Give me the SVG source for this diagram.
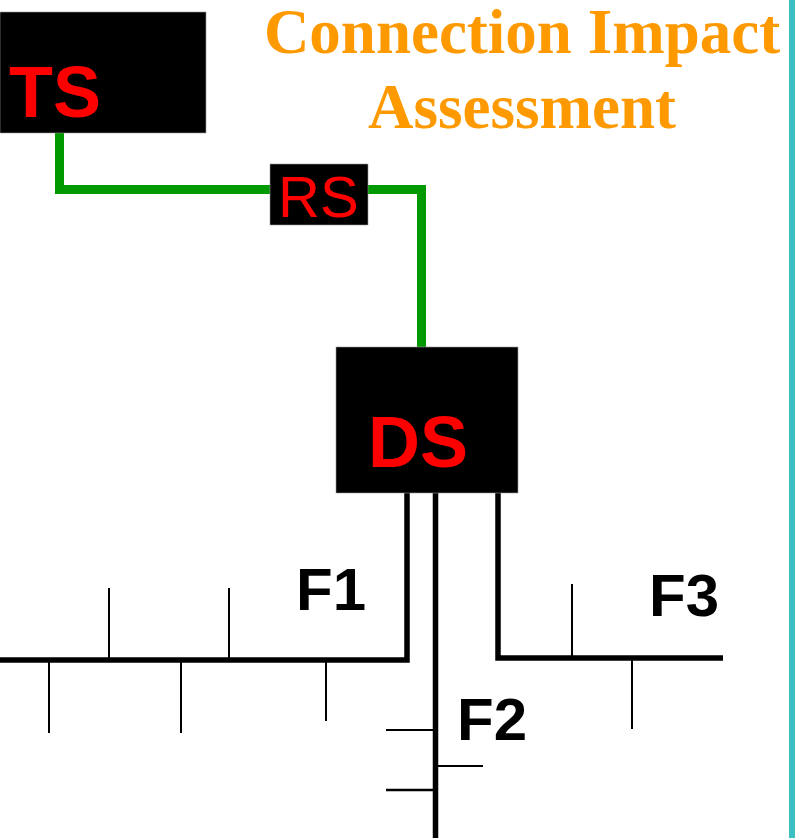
<svg xmlns="http://www.w3.org/2000/svg" width="795" height="838" viewBox="0 0 795 838">
<style>
.box{fill:#000;stroke:#999;stroke-width:0.6}
.lbl{font-family:"Liberation Sans",Arial,sans-serif;fill:#ff0000}
.bold{font-weight:bold}
.feed{stroke:#000;stroke-width:5.5;fill:none;stroke-linejoin:miter}
.tick{stroke:#000;stroke-width:2;fill:none}
.green{stroke:#009900;stroke-width:9;fill:none;stroke-linejoin:miter}
.fl{font-family:"Liberation Sans",Arial,sans-serif;font-weight:bold;font-size:60px;fill:#000}
.title{font-family:"Liberation Serif","Times New Roman",serif;font-weight:bold;font-size:63px;fill:#ff9900;text-anchor:middle}
</style>
<rect width="795" height="838" fill="#fff"/>
<rect x="789" y="0" width="6" height="838" fill="#3cbfc0"/>
<g id="title">
<text class="title" x="522" y="53">Connection Impact</text>
<text class="title" x="522" y="128">Assessment</text>
</g>
<g id="connectors">
<polyline class="green" points="59.5,131 59.5,189.5 272,189.5"/>
<polyline class="green" points="366,189.5 421.5,189.5 421.5,348"/>
<polyline class="feed" points="407,493 407,660 0,660"/>
<line class="feed" x1="435.5" y1="493" x2="435.5" y2="838"/>
<polyline class="feed" points="498,493 498,658 723,658"/>
<g class="tick">
<line x1="109" y1="588" x2="109" y2="658"/>
<line x1="229" y1="588" x2="229" y2="658"/>
<line x1="49" y1="662" x2="49" y2="733"/>
<line x1="181" y1="662" x2="181" y2="733"/>
<line x1="326" y1="662" x2="326" y2="721"/>
<line x1="572" y1="584" x2="572" y2="656"/>
<line x1="632" y1="660" x2="632" y2="729"/>
<line x1="386" y1="730" x2="434" y2="730"/>
<line x1="437" y1="766" x2="483" y2="766"/>
<line x1="386" y1="790" x2="434" y2="790" stroke-width="2.5"/>
</g>
</g>
<g id="TS">
<rect class="box" x="0" y="12" width="206" height="121"/>
<text class="lbl bold" x="9" y="117" font-size="72">TS</text>
</g>
<g id="RS">
<rect class="box" x="270" y="164" width="98" height="61"/>
<text class="lbl" x="278" y="217" font-size="58">RS</text>
</g>
<g id="DS">
<rect class="box" x="336" y="347" width="182" height="146"/>
<text class="lbl bold" x="368" y="467" font-size="72">DS</text>
</g>
<g id="F1"><text class="fl" x="296" y="610">F1</text></g>
<g id="F2"><text class="fl" x="457" y="740">F2</text></g>
<g id="F3"><text class="fl" x="649" y="616">F3</text></g>
</svg>
